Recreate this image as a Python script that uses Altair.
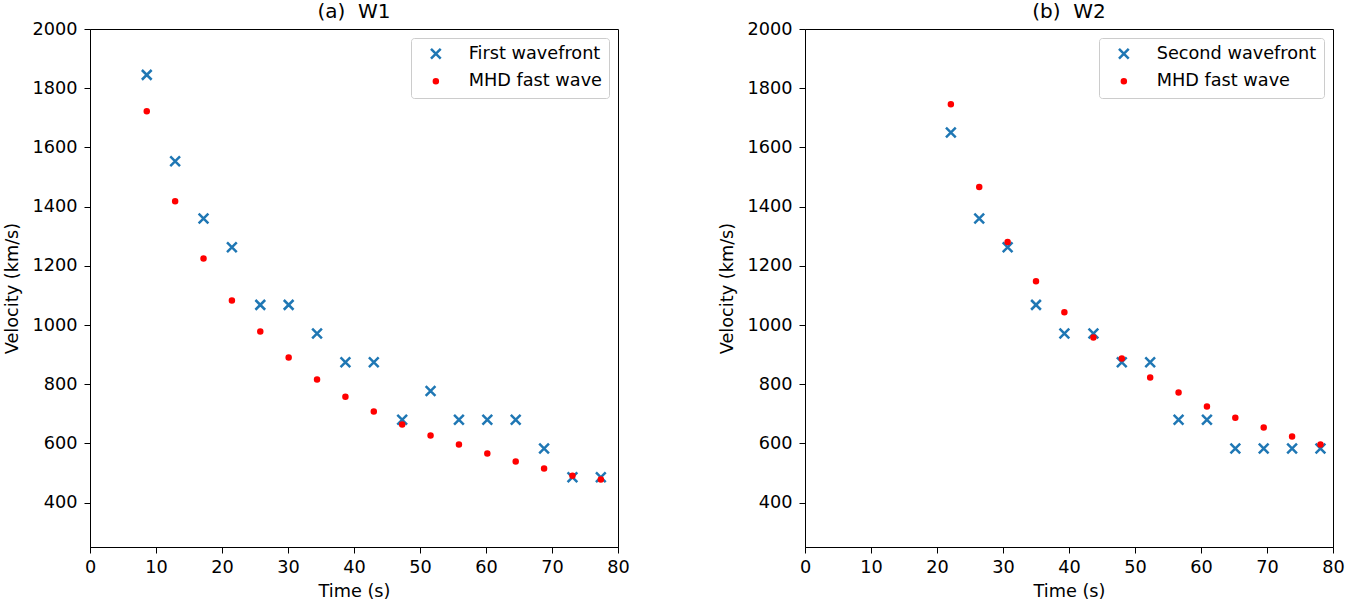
import altair as alt
import pandas as pd

# Panel (a) W1
t1 = [8.6, 12.9, 17.2, 21.5, 25.8, 30.1, 34.4, 38.7, 43.0, 47.3, 51.6, 55.9, 60.2, 64.5, 68.8, 73.1, 77.4]
w1_obs = [1845, 1553, 1360, 1263, 1068, 1068, 971, 874, 874, 680, 777, 680, 680, 680, 583, 486, 486]
w1_mhd = [1722, 1418, 1225, 1083, 978, 890, 816, 758, 708, 664, 627, 596, 566, 539, 515, 491, 478]

# Panel (b) W2
t2 = [22.1, 26.4, 30.7, 35.0, 39.3, 43.7, 48.0, 52.3, 56.6, 60.9, 65.2, 69.5, 73.8, 78.1]
w2_obs = [1650, 1360, 1263, 1068, 971, 971, 874, 874, 680, 680, 583, 583, 583, 583]
w2_mhd = [1746, 1466, 1280, 1148, 1043, 958, 887, 823, 772, 725, 687, 654, 623, 596]

x_ticks = [0, 10, 20, 30, 40, 50, 60, 70, 80]
y_ticks = [400, 600, 800, 1000, 1200, 1400, 1600, 1800, 2000]

BLUE = "#1f77b4"
RED = "#ff0000"
XPATH = "M-1,-1L1,1M1,-1L-1,1"
FONT = "DejaVu Sans"
FS = 17.7


def panel(title, t, obs, mhd, obs_label):
    df = pd.concat([
        pd.DataFrame({"t": t, "v": obs, "series": obs_label}),
        pd.DataFrame({"t": t, "v": mhd, "series": "MHD fast wave"}),
    ])
    dom = [obs_label, "MHD fast wave"]
    leg = alt.Legend(
        title=None, orient="top-right", offset=9, padding=7,
        strokeColor="#cccccc", fillColor="white", cornerRadius=3,
        labelFont=FONT, labelFontSize=FS, labelColor="black",
        labelOffset=24, symbolOffset=9, rowPadding=7.5,
        symbolStrokeWidth=2.5,
    )
    return alt.Chart(df, title=alt.Title(title)).mark_point(
        filled=True, strokeWidth=2.5, opacity=1
    ).encode(
        x=alt.X("t:Q", title="Time (s)",
                scale=alt.Scale(domain=[0, 80], nice=False, zero=False),
                axis=alt.Axis(values=x_ticks, format="d", labelFlush=False)),
        y=alt.Y("v:Q", title="Velocity (km/s)",
                scale=alt.Scale(domain=[250, 2000], nice=False, zero=False),
                axis=alt.Axis(values=y_ticks, format="d", labelFlush=False)),
        fill=alt.Fill("series:N", scale=alt.Scale(domain=dom, range=[BLUE, RED]), legend=leg),
        stroke=alt.Stroke("series:N", scale=alt.Scale(domain=dom, range=[BLUE, RED]), legend=leg),
        shape=alt.Shape("series:N", scale=alt.Scale(domain=dom, range=[XPATH, "circle"]), legend=leg),
        size=alt.Size("series:N", scale=alt.Scale(domain=dom, range=[95, 16]), legend=leg),
    ).properties(width=528, height=518)


left = panel("(a)\u00a0 W1", t1, w1_obs, w1_mhd, "First wavefront")
right = panel("(b)\u00a0 W2", t2, w2_obs, w2_mhd, "Second wavefront")

chart = alt.hconcat(left, right, spacing=187, bounds="flush").resolve_scale(
    fill="independent", stroke="independent", shape="independent", size="independent"
).properties(
    padding={"left": 3, "top": 1, "right": 5, "bottom": 5},
    background="white",
).configure_view(
    stroke="black", strokeWidth=1
).configure_axis(
    grid=False, domainColor="black", tickColor="black", tickSize=6, tickWidth=1,
    labelFont=FONT, labelFontSize=FS, labelColor="black",
    titleFont=FONT, titleFontSize=FS, titleFontWeight="normal", titleColor="black",
).configure_axisY(labelPadding=7, titlePadding=10).configure_axisX(
    labelPadding=5, titlePadding=7
).configure_title(
    font=FONT, fontSize=20, fontWeight="normal", color="black", offset=-2, anchor="middle"
)

chart.save("out.html", embed_options={"renderer": "svg", "actions": False})
